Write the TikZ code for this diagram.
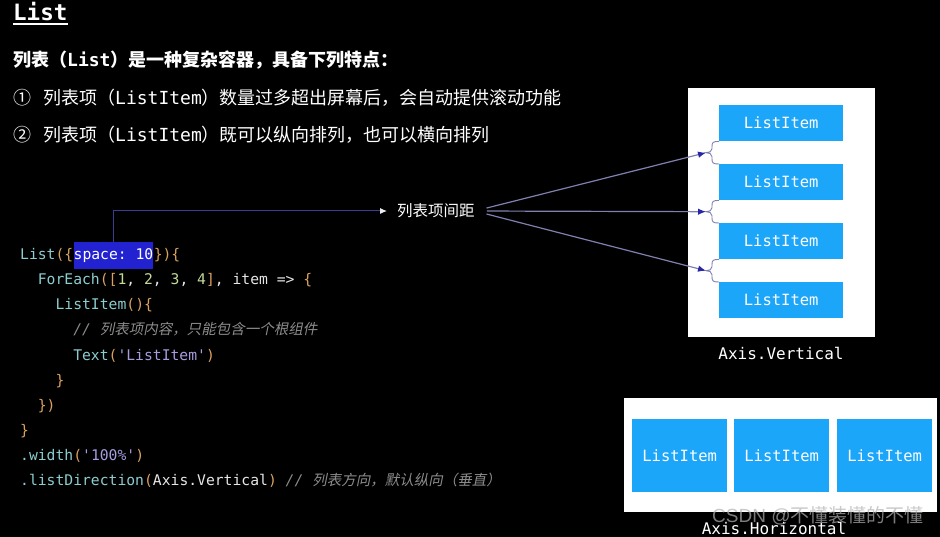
\documentclass[tikz,border=0pt]{standalone}
\usepackage{fontspec}
\setmonofont{DejaVu Sans Mono}
\newfontfamily\zhf{Noto Sans CJK SC}
\newfontfamily\zhit{Noto Sans CJK SC}[FakeSlant=0.2]
\newfontfamily\wmf{Liberation Sans}
\usetikzlibrary{arrows.meta,calc}
\definecolor{itemblue}{HTML}{1CA6FA}
\definecolor{hlblue}{HTML}{2222D0}
\definecolor{navy}{HTML}{3C3C96}
\definecolor{fanc}{HTML}{8080B0}
\definecolor{tipc}{HTML}{2626A6}
\definecolor{kw}{HTML}{8CCDCF}
\definecolor{brc}{HTML}{D9A15E}
\definecolor{numc}{HTML}{C5DA9B}
\definecolor{strc}{HTML}{A99BE0}
\definecolor{cmc}{HTML}{8C8C8C}
\definecolor{codew}{HTML}{E6E6E6}
\newcommand\ckw[1]{\textcolor{kw}{#1}}
\newcommand\cbr[1]{\textcolor{brc}{#1}}
\newcommand\cnum[1]{\textcolor{numc}{#1}}
\newcommand\cstr[1]{\textcolor{strc}{#1}}
\newcommand\ccm[1]{{\color{cmc}\itshape // {\zhit\fontsize{14.5}{16}\selectfont #1}}}
\begin{document}
\begin{tikzpicture}[x=1pt,y=-1pt,
  every node/.style={inner sep=0pt, text=white},
  code/.style={anchor=base west, text=codew, font=\fontsize{14.7}{16}\selectfont\ttfamily},
  head/.style={anchor=base west, font=\fontsize{18}{20}\selectfont\zhf},
  item/.style={fill=itemblue, font=\fontsize{15.5}{17}\selectfont\ttfamily, text=white, anchor=north west},
  panel/.style={fill=white, anchor=north west},
  bracec/.style={draw=fanc, line width=0.9pt},
  fan/.style={draw=fanc, line width=1.2pt, -{Latex[length=8pt,width=6.5pt,color=tipc]}},
  captxt/.style={font=\fontsize{16}{18}\selectfont\ttfamily, text=white}
]
\fill[black] (0,0) rectangle (940,537);
\useasboundingbox (0,0) rectangle (940,537);

% title and description
\node[anchor=base west, font=\fontsize{22.5}{25}\selectfont\ttfamily\bfseries] (title) at (13,21) {List};
\draw[white, line width=1.8pt] ([yshift=-2.5pt]title.south west) -- ([yshift=-2.5pt]title.south east);
\node[head] (l1) at (13,67) {\bfseries 列表（{\ttfamily List}）是一种复杂容器，具备下列特点：};
\node[head] (n1) at (13,105) {①};
\node[head] (l2) at (43,105) {列表项（{\ttfamily ListItem}）数量过多超出屏幕后，会自动提供滚动功能};
\node[head] (n2) at (13,142) {②};
\node[head] (l3) at (43,142) {列表项（{\ttfamily ListItem}）既可以纵向排列，也可以横向排列};

% code
\node[code] (c1a) at (20,260) {\ckw{List}\cbr{(\{}};
\node[code, fill=hlblue, text=white, inner ysep=6pt, text height=12pt, text depth=3pt] (hl) at (c1a.base east) {space: 10};
\node[code] (c1b) at (hl.base east) {\cbr{\})\{}};
\node[code] (c2) at (37.7,285) {\ckw{ForEach}\cbr{([}\cnum{1}, \cnum{2}, \cnum{3}, \cnum{4}\cbr{]}, item => \cbr{\{}};
\node[code] (c3) at (55.4,310) {\ckw{ListItem}\cbr{()\{}};
\node[code] (c4) at (73.1,335) {\ccm{列表项内容，只能包含一个根组件}};
\node[code] (c5) at (73.1,360) {\ckw{Text}\cbr{(}\cstr{'ListItem'}\cbr{)}};
\node[code] (c6) at (55.4,385) {\cbr{\}}};
\node[code] (c7) at (37.7,410) {\cbr{\})}};
\node[code] (c8) at (20,435) {\cbr{\}}};
\node[code] (c9) at (20,460) {\ckw{.width}\cbr{(}\cstr{'100\%'}\cbr{)}};
\node[code] (c10) at (20,485) {\ckw{.listDirection}\cbr{(}Axis.Vertical\cbr{)} \ccm{列表方向，默认纵向（垂直）}};

% label and connector
\node[anchor=west, font=\fontsize{15.5}{17}\selectfont\zhf] (lbl) at (397,211) {列表项间距};
\draw[navy, line width=1pt, -{Latex[length=7pt,width=6pt,color=white!85!gray]}, shorten >=10pt] (hl.north) |- (lbl.west);

% vertical list
\node[panel, minimum width=187pt, minimum height=249pt] (vp) at (688,88) {};
\node[item, minimum width=124pt, minimum height=36pt] (v1) at (719,105) {ListItem};
\node[item, minimum width=124pt, minimum height=36pt] (v2) at (719,164) {ListItem};
\node[item, minimum width=124pt, minimum height=36pt] (v3) at (719,223) {ListItem};
\node[item, minimum width=124pt, minimum height=36pt] (v4) at (719,282) {ListItem};
\node[captxt] (vcap) at (781,353) {Axis.Vertical};

\foreach \a/\b/\t in {v1/v2/t1, v2/v3/t2, v3/v4/t3}{
  \coordinate (\t) at ($(\a.south west)!0.5!(\b.north west)+(-13,0)$);
  \draw[bracec] (\a.south west) .. controls ([xshift=-6pt]\a.south west) and ([xshift=-7pt,yshift=-1pt]\a.south west) .. ([xshift=-7pt,yshift=-5pt]\a.south west)
    -- ([xshift=6pt,yshift=4pt]\t) .. controls ([xshift=6pt,yshift=1pt]\t) and ([xshift=3pt]\t) .. (\t)
    .. controls ([xshift=3pt]\t) and ([xshift=6pt,yshift=-1pt]\t) .. ([xshift=6pt,yshift=-4pt]\t)
    -- ([xshift=-7pt,yshift=5pt]\b.north west) .. controls ([xshift=-7pt,yshift=1pt]\b.north west) and ([xshift=-6pt]\b.north west) .. (\b.north west);
}
\foreach \t in {t1,t2,t3}{
  \draw[fan, shorten <=12pt] (lbl.east) -- (\t);
}

% horizontal list
\node[panel, minimum width=313pt, minimum height=114pt] (hp) at (624,398) {};
\node[item, minimum width=95pt, minimum height=73pt] (h1) at (632,419) {ListItem};
\node[item, minimum width=95pt, minimum height=73pt] (h2) at (734,419) {ListItem};
\node[item, minimum width=95pt, minimum height=73pt] (h3) at (837,419) {ListItem};
\node[captxt] (hcap) at (774,528) {Axis.Horizontal};
\node[anchor=west, text=gray!60!white, opacity=0.7, font=\fontsize{19}{21}\selectfont] (wm) at (712,516) {{\wmf CSDN @}{\zhf 不懂装懂的不懂}};
\end{tikzpicture}
\end{document}
